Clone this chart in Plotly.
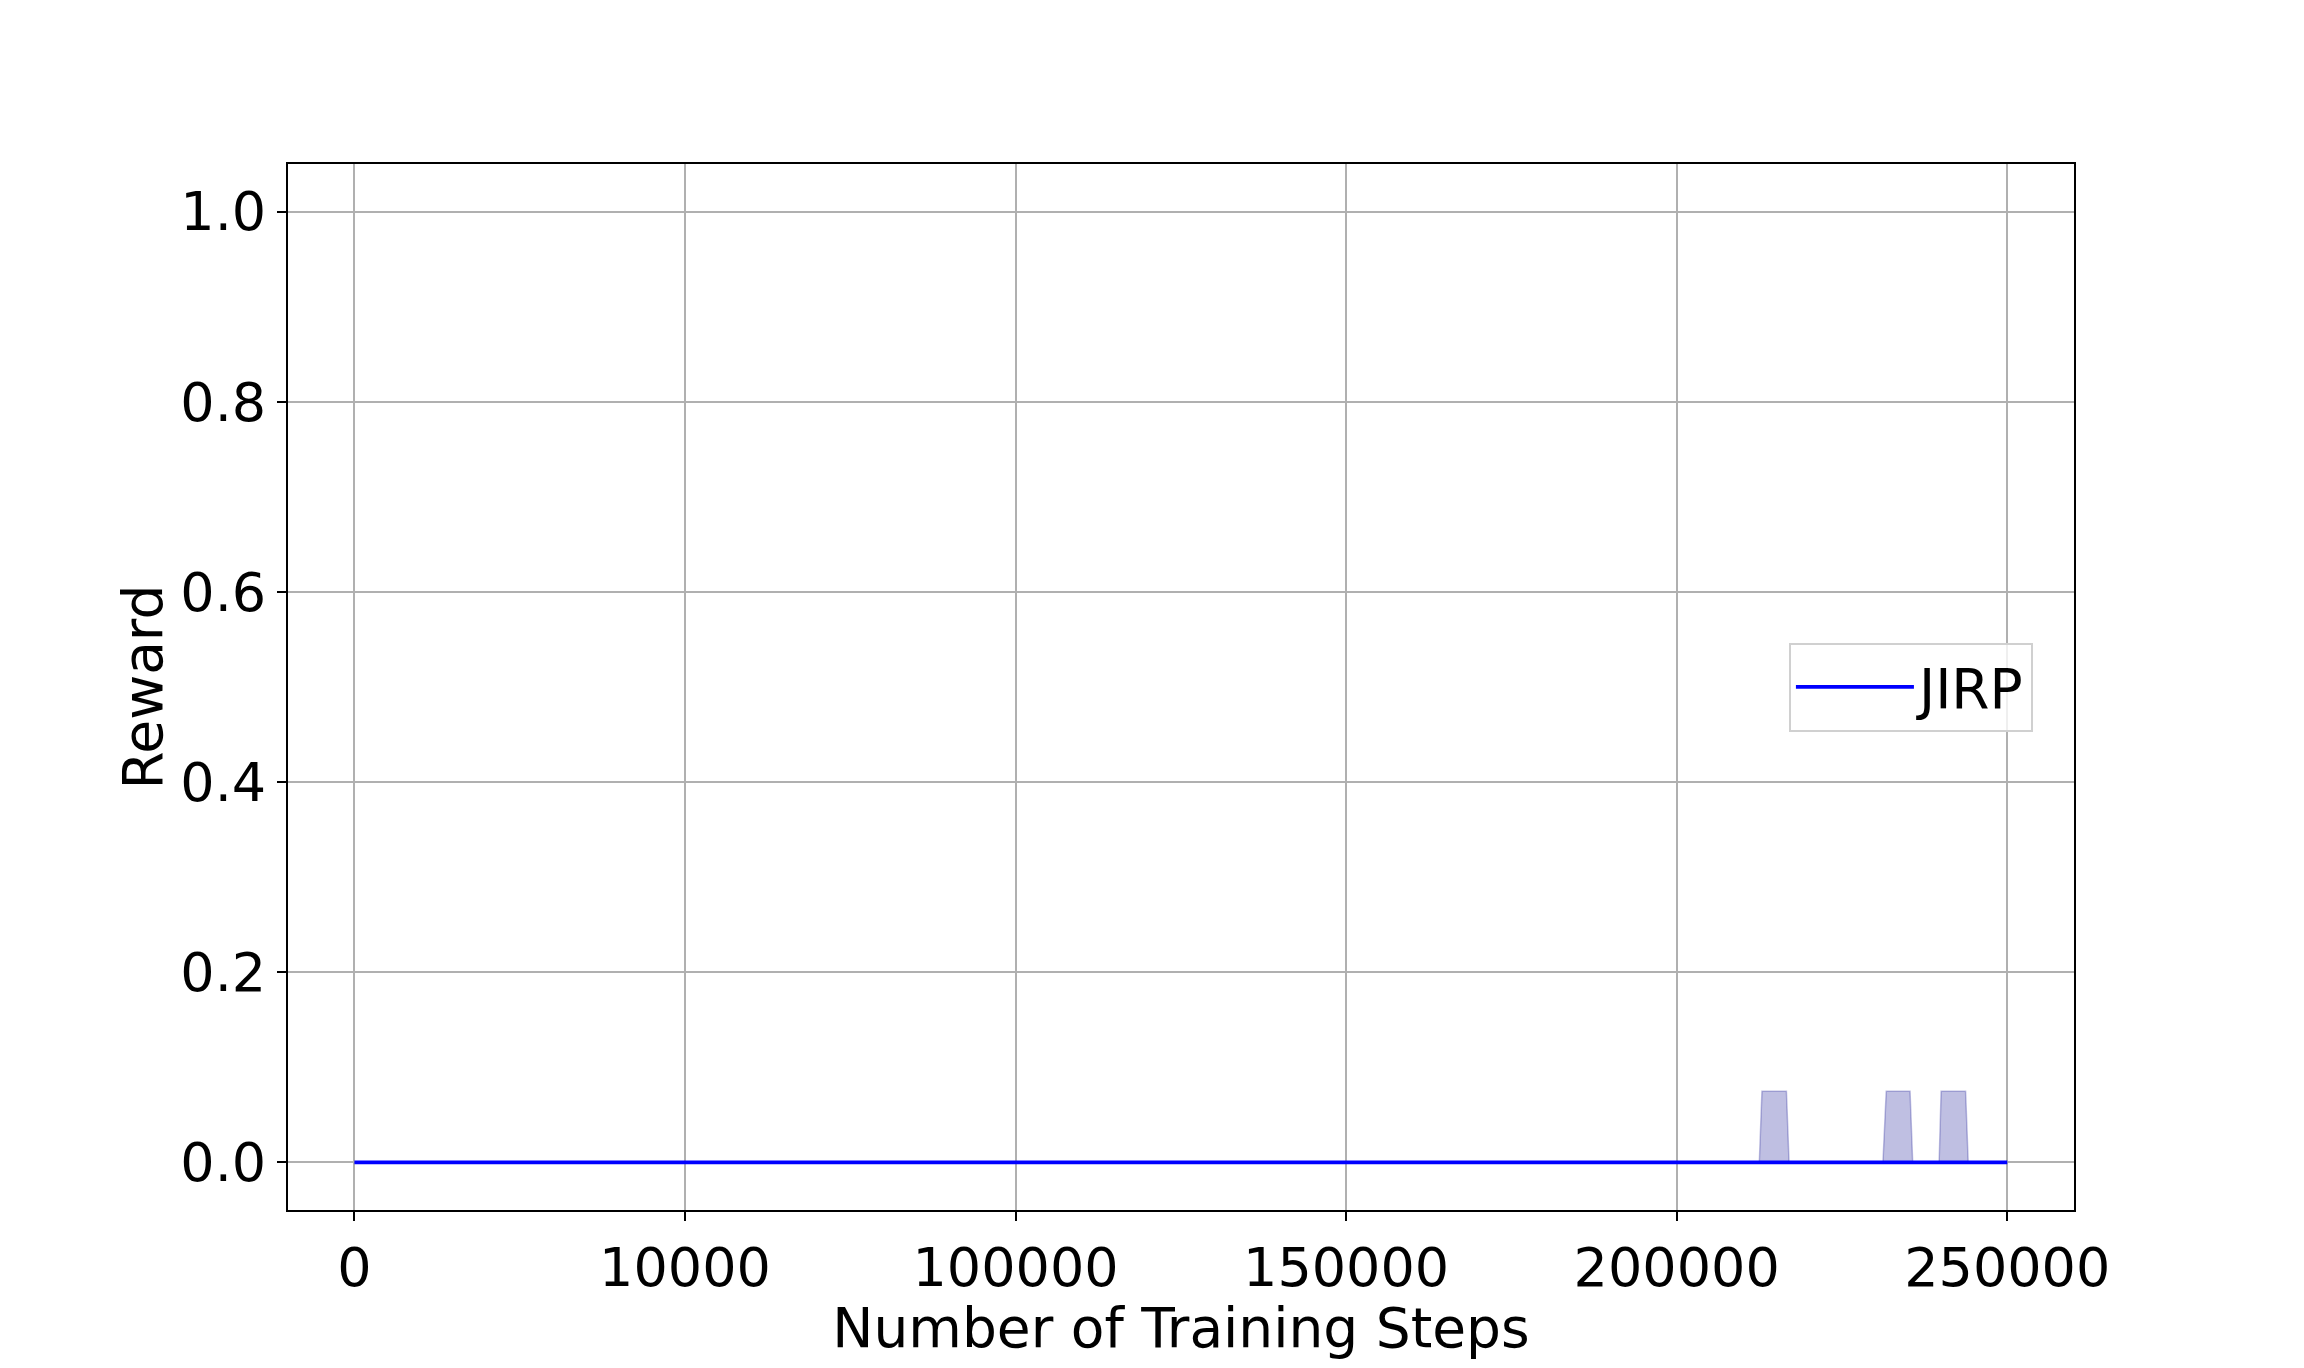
import plotly.graph_objects as go

# Data
steps = [0, 212500, 212900, 216600, 217000, 231200, 231700, 235300, 235700,
         239700, 240000, 243700, 244100, 250000]
mean_reward = [0.0] * len(steps)
upper_reward = [0.0, 0.0, 0.075, 0.075, 0.0, 0.0, 0.075, 0.075, 0.0,
                0.0, 0.075, 0.075, 0.0, 0.0]
lower_reward = [0.0] * len(steps)

x_tick_vals = [0, 50000, 100000, 150000, 200000, 250000]
x_tick_text = ["0", "10000", "100000", "150000", "200000", "250000"]
y_tick_vals = [0.0, 0.2, 0.4, 0.6, 0.8, 1.0]

FONT = "DejaVu Sans"
FS = 55
TFS = 54
band = "rgba(0,0,139,0.25)"

fig = go.Figure()
fig.add_trace(go.Scatter(x=steps, y=lower_reward, mode="lines",
                         line=dict(width=0, color=band), showlegend=False,
                         hoverinfo="skip"))
fig.add_trace(go.Scatter(x=steps, y=upper_reward, mode="lines", fill="tonexty",
                         fillcolor=band, line=dict(width=1.5, color=band),
                         showlegend=False, hoverinfo="skip"))
fig.add_trace(go.Scatter(x=steps, y=mean_reward, mode="lines", name="JIRP",
                         line=dict(color="blue", width=3.75)))

axis_common = dict(
    showgrid=True, gridcolor="#b0b0b0", gridwidth=1.6,
    showline=True, linecolor="black", linewidth=2, mirror=True,
    ticks="outside", ticklen=9, tickwidth=2, tickcolor="black",
    zeroline=False,
    tickfont=dict(family=FONT, size=TFS, color="black"),
)

fig.update_layout(
    width=2288, height=1352,
    paper_bgcolor="white", plot_bgcolor="white",
    margin=dict(l=280, r=222, t=156, b=142),
    font=dict(family=FONT, color="black"),
    xaxis=dict(range=[-10050, 260100], tickvals=x_tick_vals, ticktext=x_tick_text,
               title=dict(text="Number of Training Steps",
                          font=dict(family=FONT, size=FS, color="black"), standoff=11),
               **axis_common),
    yaxis=dict(range=[-0.05, 1.05], tickvals=y_tick_vals,
               tickformat=".1f",
               title=dict(text="Reward",
                          font=dict(family=FONT, size=FS, color="black"), standoff=0),
               **axis_common),
    legend=dict(x=0.977, y=0.5, xanchor="right", yanchor="middle",
                bgcolor="rgba(255,255,255,0.8)", bordercolor="#d0d0d0", borderwidth=2,
                font=dict(family=FONT, size=FS, color="black"),
                itemwidth=118),
    showlegend=True,
)

fig.write_html("out.html")
